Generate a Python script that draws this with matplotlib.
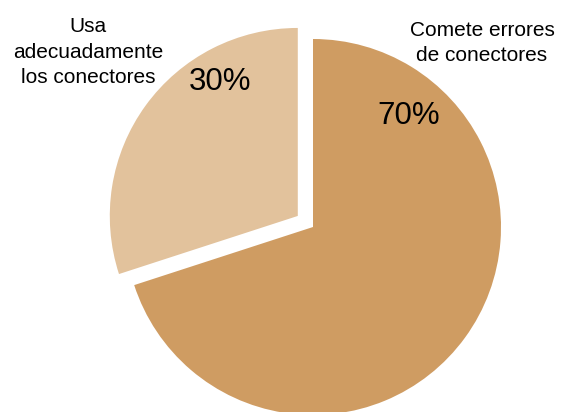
import matplotlib
matplotlib.use('Agg')
import matplotlib.pyplot as plt

# Data
categories = ['Comete errores\nde conectores', 'Usa\nadecuadamente\nlos conectores']
values = [70, 30]
pct_labels = ['70%', '30%']
colors = ['#CF9C62', '#E2C29C']

plt.rcParams['font.family'] = ['Liberation Sans', 'DejaVu Sans']

W, H = 562, 412
fig = plt.figure(figsize=(W / 100, H / 100), dpi=100)

# pie centre (313, 227) px, radius 188 px
cx, cy, r = 313, 227, 188
ax = fig.add_axes([(cx - r) / W, (H - cy - r) / H, 2 * r / W, 2 * r / H])
ax.pie(values, colors=colors, startangle=90, counterclock=False,
       explode=[0, 0.1], radius=1, wedgeprops=dict(linewidth=0))
ax.set_xlim(-1, 1)
ax.set_ylim(-1, 1)
ax.set_aspect('equal')
ax.axis('off')
for p in ax.patches:
    p.set_clip_on(False)

def px(x, y):
    return x / W, 1 - y / H

# category labels
fig.text(*px(482, 43), categories[0], ha='center', va='center',
         fontsize=15, linespacing=1.42)
fig.text(*px(88, 52), categories[1], ha='center', va='center',
         fontsize=15, linespacing=1.42)

# percentages
fig.text(*px(409, 116), pct_labels[0], ha='center', va='center', fontsize=22.5)
fig.text(*px(220, 82), pct_labels[1], ha='center', va='center', fontsize=22.5)

fig.savefig('out.png', dpi=100)
